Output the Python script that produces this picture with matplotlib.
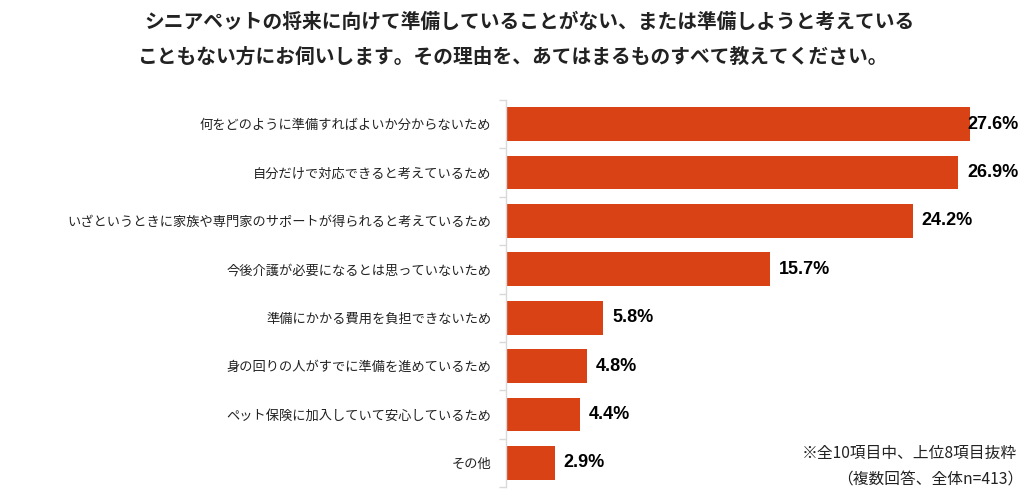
import matplotlib
matplotlib.use("Agg")
import matplotlib.pyplot as plt
import numpy as np

plt.rcParams['font.family'] = ['Noto Sans CJK JP', 'DejaVu Sans']

categories = [
    "何をどのように準備すればよいか分からないため",
    "自分だけで対応できると考えているため",
    "いざというときに家族や専門家のサポートが得られると考えているため",
    "今後介護が必要になるとは思っていないため",
    "準備にかかる費用を負担できないため",
    "身の回りの人がすでに準備を進めているため",
    "ペット保険に加入していて安心しているため",
    "その他",
]
values = [27.6, 26.9, 24.2, 15.7, 5.8, 4.8, 4.4, 2.9]
value_labels = ["27.6%", "26.9%", "24.2%", "15.7%", "5.8%", "4.8%", "4.4%", "2.9%"]
title_lines = [
    "シニアペットの将来に向けて準備していることがない、または準備しようと考えている",
    "こともない方にお伺いします。その理由を、あてはまるものすべて教えてください。",
]
note_lines = ["※全10項目中、上位8項目抜粋", "（複数回答、全体n=413）"]

W, H = 1024, 494
fig = plt.figure(figsize=(W / 100, H / 100), dpi=100)

ax_left, ax_right = 506, 1006
ax_top, ax_bottom = 100, 487
ax = fig.add_axes([ax_left / W, (H - ax_bottom) / H, (ax_right - ax_left) / W, (ax_bottom - ax_top) / H])

px_per_unit = 16.81
xmax = (ax_right - ax_left) / px_per_unit
bar_color = "#D94214"

n = len(categories)
y = np.arange(n)
ax.barh(y, values, height=0.70, color=bar_color, zorder=2)
ax.set_xlim(0, xmax)
ax.set_ylim(n - 0.5, -0.5)

# value labels
limit_px = 1019  # right edge limit for labels
for yi, v, lab in zip(y, values, value_labels):
    ax.text(v + 9 / px_per_unit, yi, lab, fontsize=13, fontweight='bold',
            family=['Liberation Sans', 'DejaVu Sans'],
            va='center', ha='left', color='#000000')

fig.canvas.draw()
renderer = fig.canvas.get_renderer()
for t in ax.texts:
    bb = t.get_window_extent(renderer)
    if bb.x1 > limit_px:
        shift = (bb.x1 - limit_px) / px_per_unit
        t.set_x(t.get_position()[0] - shift)

ax.set_yticks(y)
ax.set_yticklabels(categories, fontsize=9.5, color='#222222')
ax.set_yticks(np.arange(n + 1) - 0.5, minor=True)
ax.tick_params(axis='y', which='major', length=0, pad=10.5)
ax.tick_params(axis='y', which='minor', length=5, color='#d9d9d9', width=1)
ax.set_xticks([])
for s in ['top', 'right', 'bottom']:
    ax.spines[s].set_visible(False)
ax.spines['left'].set_color('#d9d9d9')
ax.spines['left'].set_linewidth(1)

fig.text(530 / W, 1 - 22 / H, title_lines[0], fontsize=14.2, fontweight='bold',
         ha='center', va='center', color='#222222')
fig.text(512 / W, 1 - 57 / H, title_lines[1], fontsize=14.2, fontweight='bold',
         ha='center', va='center', color='#222222')

fig.text(1017 / W, 1 - 453 / H, note_lines[0], fontsize=11.3, ha='right', va='center', color='#222222')
fig.text(1023 / W, 1 - 480 / H, note_lines[1], fontsize=11.3, ha='right', va='center', color='#222222')

fig.savefig("out.png", dpi=100)
